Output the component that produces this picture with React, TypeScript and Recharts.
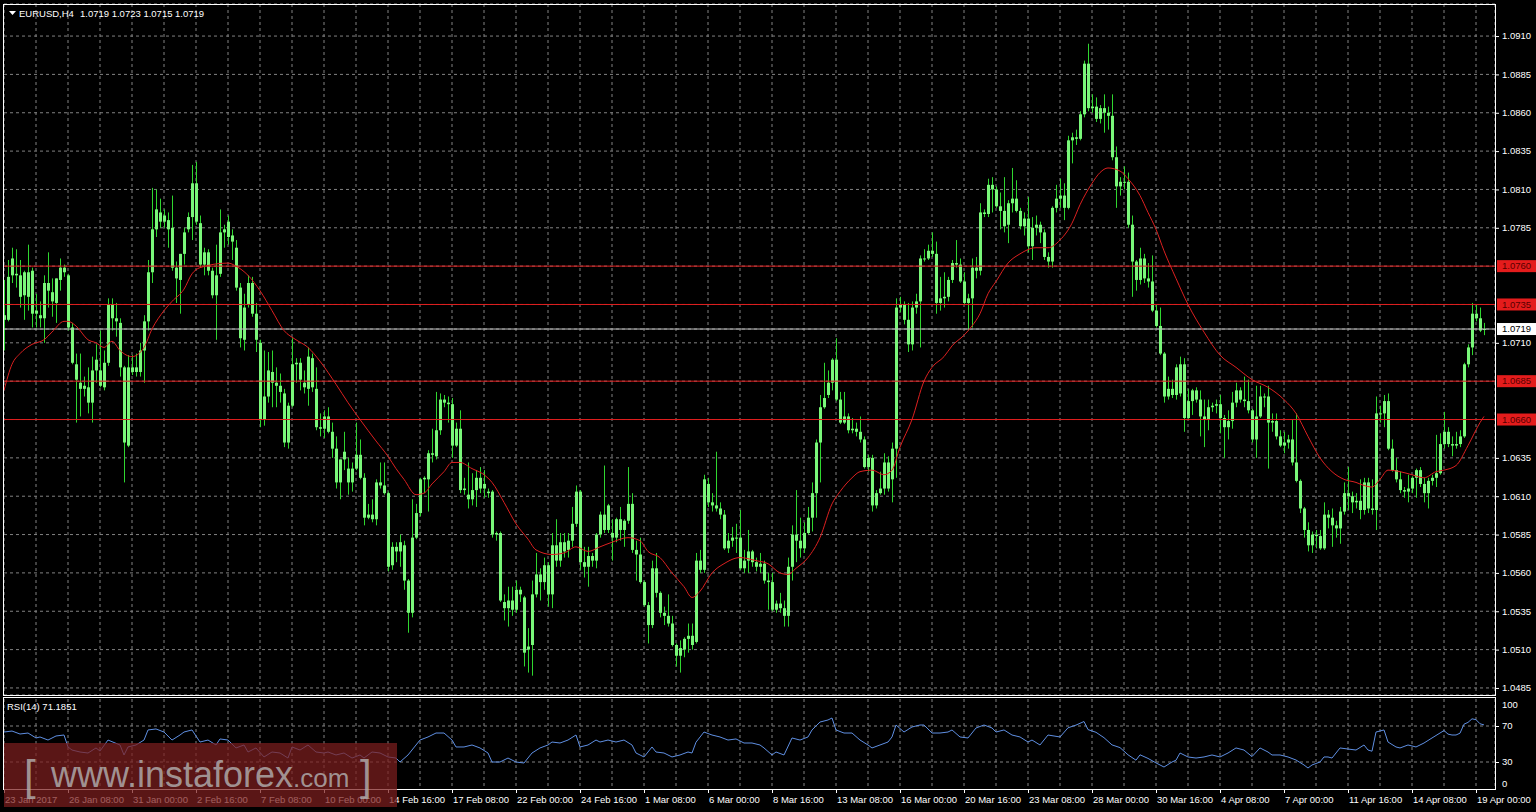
import React from 'react';
import { ComposedChart, Bar, Line, XAxis, YAxis, CartesianGrid, ReferenceLine } from 'recharts';

// ---------- texts ----------
const symbolTitle = 'EURUSD,H4';
const lastOHLC = [1.0719, 1.0723, 1.0715, 1.0719];
const rsiTitle = 'RSI(14) 71.1851';
const watermarkMain = 'www.instaforex';
const watermarkTail = '.com';

// ---------- axes ----------
const priceTicks = [1.0485, 1.051, 1.0535, 1.056, 1.0585, 1.061, 1.0635, 1.066, 1.0685, 1.071, 1.0735, 1.076, 1.0785, 1.081, 1.0835, 1.086, 1.0885, 1.091];
const redLevels = [1.076, 1.0735, 1.0685, 1.066];
const lastPrice = 1.0719;
const rsiTicks = [0, 30, 70, 100];
const rsiLevels = [30, 70];
const dateLabels = ['23 Jan 2017', '26 Jan 08:00', '31 Jan 00:00', '2 Feb 16:00', '7 Feb 08:00', '10 Feb 00:00', '14 Feb 16:00', '17 Feb 08:00', '22 Feb 00:00', '24 Feb 16:00', '1 Mar 08:00', '6 Mar 00:00', '8 Mar 16:00', '13 Mar 08:00', '16 Mar 00:00', '20 Mar 16:00', '23 Mar 08:00', '28 Mar 00:00', '30 Mar 16:00', '4 Apr 08:00', '7 Apr 00:00', '11 Apr 16:00', '14 Apr 08:00', '19 Apr 00:00'];

// ---------- H4 candles [open, high, low, close] ----------
const barsLateJan = [
  [1.0725,1.0751,1.0705,1.0728],[1.0725,1.0764,1.0724,1.0753],[1.0754,1.0772,1.0749,1.0765],[1.0755,1.0771,1.0746,1.0754],
  [1.0754,1.0764,1.0733,1.0740],[1.0741,1.0757,1.0725,1.0756],[1.0756,1.0774,1.0731,1.0740],[1.0757,1.0759,1.0720,1.0729],
  [1.0729,1.0742,1.0720,1.0731],[1.0728,1.0737,1.0720,1.0726],[1.0726,1.0754,1.0710,1.0749],[1.0749,1.0769,1.0733,1.0744],
  [1.0743,1.0752,1.0727,1.0737],[1.0736,1.0752,1.0723,1.0752],[1.0751,1.0765,1.0744,1.0759],[1.0759,1.0761,1.0753,1.0756],
  [1.0754,1.0755,1.0718,1.0720],[1.0720,1.0723,1.0696,1.0697],[1.0696,1.0703,1.0658,1.0686],[1.0684,1.0703,1.0662,1.0680],
  [1.0680,1.0688,1.0675,1.0682],[1.0681,1.0694,1.0664,1.0671],[1.0671,1.0701,1.0658,1.0692],[1.0692,1.0709,1.0684,1.0699],
  [1.0692,1.0718,1.0681,1.0682],[1.0681,1.0705,1.0679,1.0697],[1.0697,1.0739,1.0695,1.0735],[1.0735,1.0739,1.0718,1.0726],
  [1.0726,1.0736,1.0714,1.0724],[1.0723,1.0726,1.0688,1.0694],[1.0694,1.0695,1.0619,1.0645],[1.0643,1.0702,1.0642,1.0694],
  [1.0694,1.0702,1.0689,1.0691],[1.0691,1.0703,1.0688,1.0694],[1.0691,1.0710,1.0688,1.0705],[1.0705,1.0728,1.0684,1.0724],
  [1.0724,1.0764,1.0718,1.0756],[1.0756,1.0811,1.0749,1.0784],[1.0784,1.0810,1.0779,1.0797],[1.0795,1.0804,1.0785,1.0789],
  [1.0789,1.0797,1.0785,1.0793],[1.0790,1.0795,1.0772,1.0784],[1.0785,1.0806,1.0757,1.0759],[1.0759,1.0763,1.0736,1.0752],
  [1.0751,1.0768,1.0729,1.0768],[1.0768,1.0785,1.0761,1.0782],[1.0784,1.0795,1.0782,1.0792],[1.0792,1.0826,1.0777,1.0814],
  [1.0814,1.0828,1.0787,1.0789],
];
const barsEarlyFeb = [
  [1.0788,1.0793,1.0759,1.0761],[1.0761,1.0772,1.0754,1.0769],[1.0769,1.0771,1.0754,1.0757],[1.0757,1.0759,1.0739,1.0741],
  [1.0741,1.0774,1.0712,1.0754],[1.0755,1.0797,1.0753,1.0782],[1.0782,1.0787,1.0772,1.0784],[1.0779,1.0793,1.0774,1.0789],
  [1.0780,1.0784,1.0764,1.0776],[1.0772,1.0777,1.0744,1.0746],[1.0746,1.0749,1.0707,1.0713],[1.0712,1.0742,1.0705,1.0733],
  [1.0735,1.0754,1.0733,1.0749],[1.0749,1.0753,1.0727,1.0729],[1.0729,1.0736,1.0704,1.0712],[1.0710,1.0712,1.0655,1.0660],
  [1.0660,1.0705,1.0656,1.0675],[1.0675,1.0704,1.0671,1.0692],[1.0691,1.0705,1.0668,1.0684],[1.0684,1.0694,1.0668,1.0682],
  [1.0682,1.0690,1.0671,1.0678],[1.0677,1.0680,1.0642,1.0645],[1.0645,1.0671,1.0641,1.0669],[1.0669,1.0713,1.0668,1.0696],
  [1.0696,1.0700,1.0684,1.0697],[1.0697,1.0700,1.0679,1.0686],[1.0684,1.0692,1.0677,1.0681],[1.0680,1.0707,1.0669,1.0701],
  [1.0700,1.0703,1.0678,1.0681],[1.0680,1.0694,1.0653,1.0655],[1.0655,1.0664,1.0649,1.0654],[1.0654,1.0666,1.0648,1.0662],
  [1.0662,1.0668,1.0651,1.0652],[1.0652,1.0658,1.0635,1.0641],[1.0641,1.0649,1.0615,1.0619],[1.0619,1.0634,1.0608,1.0634],
  [1.0634,1.0652,1.0627,1.0639],[1.0628,1.0635,1.0611,1.0619],[1.0619,1.0632,1.0613,1.0628],[1.0628,1.0658,1.0627,1.0637],
  [1.0637,1.0647,1.0621,1.0622],[1.0622,1.0625,1.0591,1.0596],[1.0596,1.0605,1.0595,1.0598],[1.0598,1.0608,1.0593,1.0595],
  [1.0595,1.0621,1.0591,1.0619],[1.0619,1.0632,1.0615,1.0617],[1.0617,1.0632,1.0611,1.0612],[1.0612,1.0613,1.0561,1.0564],
  [1.0565,1.0580,1.0562,1.0577],
];
const barsMidFeb = [
  [1.0577,1.0580,1.0567,1.0574],[1.0574,1.0585,1.0564,1.0580],[1.0578,1.0581,1.0549,1.0555],[1.0555,1.0556,1.0521,1.0534],
  [1.0534,1.0608,1.0531,1.0583],[1.0583,1.0605,1.0582,1.0599],[1.0599,1.0622,1.0597,1.0621],[1.0621,1.0623,1.0612,1.0622],
  [1.0621,1.0640,1.0600,1.0638],[1.0638,1.0654,1.0632,1.0637],[1.0636,1.0678,1.0634,1.0653],[1.0653,1.0677,1.0650,1.0673],
  [1.0673,1.0676,1.0668,1.0671],[1.0671,1.0675,1.0658,1.0670],[1.0670,1.0674,1.0635,1.0643],[1.0643,1.0658,1.0642,1.0654],
  [1.0654,1.0666,1.0612,1.0614],[1.0614,1.0622,1.0611,1.0615],[1.0611,1.0632,1.0602,1.0608],[1.0608,1.0625,1.0604,1.0614],
  [1.0614,1.0627,1.0603,1.0622],[1.0622,1.0629,1.0612,1.0615],[1.0615,1.0627,1.0609,1.0618],[1.0613,1.0615,1.0609,1.0612],
  [1.0613,1.0614,1.0583,1.0585],[1.0585,1.0587,1.0581,1.0586],[1.0586,1.0587,1.0541,1.0542],[1.0541,1.0546,1.0529,1.0537],
  [1.0537,1.0551,1.0525,1.0542],[1.0542,1.0551,1.0532,1.0536],[1.0536,1.0555,1.0534,1.0549],[1.0549,1.0551,1.0541,1.0546],
  [1.0544,1.0545,1.0499,1.0508],[1.0510,1.0524,1.0495,1.0512],[1.0513,1.0555,1.0493,1.0546],[1.0546,1.0573,1.0544,1.0559],
  [1.0559,1.0563,1.0542,1.0554],[1.0554,1.0570,1.0549,1.0565],[1.0565,1.0567,1.0538,1.0546],[1.0546,1.0586,1.0537,1.0578],
  [1.0578,1.0595,1.0564,1.0568],[1.0568,1.0586,1.0564,1.0580],[1.0580,1.0586,1.0570,1.0574],[1.0575,1.0586,1.0570,1.0581],
  [1.0581,1.0603,1.0577,1.0592],[1.0592,1.0617,1.0590,1.0613],[1.0613,1.0614,1.0562,1.0567],[1.0567,1.0577,1.0557,1.0564],
  [1.0564,1.0577,1.0551,1.0571],
];
const barsLateFeb = [
  [1.0571,1.0573,1.0564,1.0568],[1.0568,1.0586,1.0563,1.0585],[1.0585,1.0600,1.0583,1.0598],[1.0598,1.0630,1.0586,1.0588],
  [1.0588,1.0605,1.0586,1.0604],[1.0586,1.0595,1.0568,1.0583],[1.0583,1.0596,1.0580,1.0595],[1.0595,1.0603,1.0581,1.0588],
  [1.0588,1.0595,1.0577,1.0594],[1.0594,1.0629,1.0592,1.0605],[1.0605,1.0612,1.0573,1.0575],[1.0575,1.0581,1.0555,1.0572],
  [1.0572,1.0583,1.0553,1.0554],[1.0554,1.0555,1.0538,1.0539],[1.0539,1.0541,1.0514,1.0526],[1.0526,1.0568,1.0524,1.0563],
  [1.0563,1.0573,1.0544,1.0547],[1.0547,1.0548,1.0531,1.0534],[1.0534,1.0538,1.0526,1.0532],[1.0532,1.0546,1.0525,1.0527],
  [1.0527,1.0532,1.0512,1.0513],[1.0513,1.0514,1.0499,1.0506],[1.0506,1.0516,1.0495,1.0511],[1.0510,1.0518,1.0505,1.0517],
  [1.0517,1.0527,1.0508,1.0519],[1.0519,1.0527,1.0510,1.0513],[1.0515,1.0573,1.0514,1.0568],[1.0568,1.0575,1.0560,1.0562],
  [1.0562,1.0624,1.0560,1.0621],[1.0618,1.0622,1.0603,1.0606],[1.0606,1.0612,1.0600,1.0604],[1.0604,1.0639,1.0600,1.0602],
  [1.0602,1.0606,1.0595,1.0598],[1.0598,1.0601,1.0575,1.0576],[1.0576,1.0586,1.0573,1.0581],[1.0581,1.0590,1.0577,1.0583],
  [1.0583,1.0592,1.0573,1.0583],[1.0583,1.0601,1.0562,1.0563],[1.0563,1.0575,1.0560,1.0568],[1.0568,1.0588,1.0560,1.0574],
  [1.0574,1.0575,1.0564,1.0567],[1.0567,1.0570,1.0561,1.0564],[1.0564,1.0573,1.0560,1.0566],[1.0566,1.0568,1.0553,1.0555],
  [1.0555,1.0560,1.0536,1.0554],[1.0554,1.0560,1.0535,1.0536],[1.0536,1.0542,1.0534,1.0540],[1.0540,1.0547,1.0534,1.0537],
  [1.0537,1.0542,1.0525,1.0532],
];
const barsEarlyMar = [
  [1.0532,1.0570,1.0525,1.0564],[1.0564,1.0591,1.0555,1.0585],[1.0585,1.0614,1.0567,1.0581],[1.0581,1.0596,1.0570,1.0576],
  [1.0576,1.0593,1.0573,1.0586],[1.0586,1.0603,1.0585,1.0596],[1.0596,1.0619,1.0587,1.0612],[1.0612,1.0647,1.0596,1.0645],
  [1.0645,1.0676,1.0619,1.0668],[1.0668,1.0697,1.0667,1.0674],[1.0676,1.0692,1.0674,1.0684],[1.0684,1.0700,1.0679,1.0699],
  [1.0699,1.0713,1.0672,1.0673],[1.0673,1.0678,1.0657,1.0658],[1.0658,1.0678,1.0657,1.0662],[1.0662,1.0664,1.0651,1.0653],
  [1.0653,1.0661,1.0651,1.0654],[1.0654,1.0658,1.0649,1.0652],[1.0652,1.0662,1.0645,1.0647],[1.0647,1.0649,1.0628,1.0629],
  [1.0629,1.0637,1.0626,1.0635],[1.0635,1.0637,1.0600,1.0604],[1.0604,1.0614,1.0602,1.0612],[1.0612,1.0626,1.0611,1.0615],
  [1.0615,1.0638,1.0611,1.0632],[1.0632,1.0636,1.0613,1.0615],[1.0621,1.0645,1.0606,1.0641],[1.0641,1.0739,1.0622,1.0733],
  [1.0733,1.0740,1.0730,1.0735],[1.0735,1.0737,1.0722,1.0725],[1.0725,1.0736,1.0704,1.0709],[1.0709,1.0737,1.0705,1.0733],
  [1.0733,1.0742,1.0729,1.0737],[1.0737,1.0767,1.0707,1.0765],[1.0765,1.0771,1.0763,1.0765],[1.0765,1.0774,1.0764,1.0770],
  [1.0770,1.0782,1.0766,1.0768],[1.0768,1.0776,1.0729,1.0736],[1.0736,1.0753,1.0731,1.0739],[1.0739,1.0756,1.0733,1.0740],
  [1.0740,1.0753,1.0737,1.0751],[1.0751,1.0764,1.0749,1.0762],[1.0762,1.0777,1.0759,1.0761],[1.0761,1.0765,1.0749,1.0750],
  [1.0750,1.0756,1.0735,1.0736],[1.0736,1.0742,1.0718,1.0739],[1.0739,1.0765,1.0720,1.0759],[1.0759,1.0766,1.0752,1.0757],
  [1.0757,1.0801,1.0754,1.0795],
];
const barsMidMar = [
  [1.0795,1.0797,1.0792,1.0794],[1.0794,1.0817,1.0792,1.0813],[1.0813,1.0818,1.0795,1.0810],[1.0810,1.0812,1.0798,1.0799],
  [1.0799,1.0808,1.0784,1.0796],[1.0796,1.0818,1.0782,1.0786],[1.0787,1.0803,1.0775,1.0801],[1.0801,1.0824,1.0795,1.0804],
  [1.0804,1.0816,1.0795,1.0796],[1.0796,1.0798,1.0784,1.0786],[1.0786,1.0795,1.0780,1.0791],[1.0791,1.0805,1.0769,1.0773],
  [1.0773,1.0792,1.0764,1.0785],[1.0785,1.0793,1.0780,1.0787],[1.0787,1.0789,1.0775,1.0782],[1.0782,1.0784,1.0764,1.0766],
  [1.0766,1.0769,1.0759,1.0763],[1.0763,1.0799,1.0759,1.0798],[1.0798,1.0813,1.0795,1.0804],[1.0804,1.0817,1.0798,1.0806],
  [1.0806,1.0814,1.0790,1.0798],[1.0798,1.0845,1.0797,1.0842],[1.0842,1.0847,1.0827,1.0844],[1.0844,1.0849,1.0839,1.0843],
  [1.0843,1.0861,1.0842,1.0859],[1.0859,1.0894,1.0857,1.0892],[1.0892,1.0905,1.0861,1.0863],[1.0863,1.0872,1.0860,1.0864],
  [1.0864,1.0870,1.0854,1.0856],[1.0856,1.0865,1.0853,1.0863],[1.0863,1.0872,1.0847,1.0860],[1.0860,1.0864,1.0849,1.0858],
  [1.0858,1.0872,1.0829,1.0831],[1.0831,1.0838,1.0798,1.0812],[1.0812,1.0818,1.0806,1.0815],[1.0815,1.0825,1.0810,1.0815],
  [1.0815,1.0821,1.0785,1.0787],[1.0787,1.0793,1.0740,1.0763],[1.0763,1.0764,1.0744,1.0751],[1.0751,1.0772,1.0748,1.0765],
  [1.0765,1.0768,1.0749,1.0752],[1.0752,1.0762,1.0746,1.0750],[1.0750,1.0767,1.0730,1.0731],[1.0731,1.0735,1.0720,1.0721],
  [1.0721,1.0733,1.0702,1.0703],[1.0703,1.0704,1.0671,1.0675],[1.0675,1.0688,1.0673,1.0680],[1.0680,1.0686,1.0674,1.0676],
  [1.0676,1.0696,1.0673,1.0694],
];
const barsEarlyApr = [
  [1.0677,1.0701,1.0675,1.0696],[1.0696,1.0700,1.0652,1.0661],[1.0661,1.0680,1.0660,1.0672],[1.0672,1.0680,1.0663,1.0679],
  [1.0679,1.0681,1.0671,1.0673],[1.0673,1.0679,1.0649,1.0662],[1.0662,1.0673,1.0642,1.0660],[1.0660,1.0673,1.0653,1.0668],
  [1.0668,1.0671,1.0665,1.0669],[1.0669,1.0673,1.0664,1.0670],[1.0670,1.0676,1.0651,1.0661],[1.0661,1.0663,1.0635,1.0655],
  [1.0655,1.0666,1.0647,1.0659],[1.0659,1.0678,1.0654,1.0671],[1.0671,1.0684,1.0668,1.0679],[1.0679,1.0681,1.0671,1.0673],
  [1.0673,1.0688,1.0668,1.0672],[1.0672,1.0686,1.0664,1.0666],[1.0666,1.0667,1.0645,1.0647],[1.0647,1.0682,1.0635,1.0662],
  [1.0662,1.0682,1.0661,1.0675],[1.0675,1.0677,1.0668,1.0675],[1.0675,1.0682,1.0628,1.0658],[1.0658,1.0664,1.0652,1.0659],
  [1.0659,1.0664,1.0647,1.0649],[1.0649,1.0653,1.0642,1.0643],[1.0643,1.0652,1.0638,1.0645],[1.0645,1.0650,1.0641,1.0647],
  [1.0647,1.0660,1.0630,1.0632],[1.0632,1.0664,1.0619,1.0620],[1.0620,1.0621,1.0599,1.0602],[1.0602,1.0603,1.0583,1.0588],
  [1.0588,1.0593,1.0574,1.0578],[1.0578,1.0587,1.0573,1.0585],[1.0585,1.0588,1.0576,1.0584],[1.0584,1.0588,1.0575,1.0576],
  [1.0576,1.0606,1.0575,1.0598],[1.0598,1.0601,1.0589,1.0596],[1.0596,1.0602,1.0577,1.0591],[1.0591,1.0594,1.0583,1.0589],
  [1.0589,1.0603,1.0579,1.0600],[1.0600,1.0619,1.0598,1.0612],[1.0612,1.0629,1.0601,1.0610],[1.0610,1.0613,1.0599,1.0606],
  [1.0606,1.0612,1.0602,1.0607],[1.0607,1.0621,1.0595,1.0601],[1.0601,1.0622,1.0598,1.0619],[1.0619,1.0622,1.0599,1.0602],
  [1.0602,1.0621,1.0598,1.0601],
];
const barsMidApr = [
  [1.0601,1.0675,1.0588,1.0664],[1.0664,1.0669,1.0658,1.0664],[1.0664,1.0676,1.0655,1.0672],[1.0672,1.0677,1.0640,1.0641],
  [1.0641,1.0647,1.0626,1.0627],[1.0627,1.0635,1.0619,1.0621],[1.0621,1.0626,1.0612,1.0614],[1.0614,1.0616,1.0609,1.0613],
  [1.0613,1.0624,1.0606,1.0615],[1.0615,1.0623,1.0612,1.0622],[1.0622,1.0628,1.0609,1.0627],[1.0627,1.0629,1.0616,1.0618],
  [1.0618,1.0622,1.0606,1.0612],[1.0612,1.0622,1.0602,1.0620],[1.0620,1.0624,1.0617,1.0622],[1.0622,1.0650,1.0616,1.0625],
  [1.0625,1.0651,1.0624,1.0644],[1.0644,1.0665,1.0641,1.0652],[1.0652,1.0655,1.0642,1.0644],[1.0644,1.0649,1.0636,1.0643],
  [1.0643,1.0652,1.0641,1.0644],[1.0644,1.0653,1.0642,1.0649],[1.0649,1.0697,1.0648,1.0696],[1.0696,1.0709,1.0694,1.0707],
  [1.0707,1.0736,1.0702,1.0729],[1.0729,1.0735,1.0724,1.0726],[1.0726,1.0733,1.0717,1.0718],[1.0719,1.0723,1.0715,1.0719],
];

// ---------- moving average [bar, value] ----------
const maPoints = [
  [0,1.0679],[2,1.0696],[4,1.0703],[7,1.0709],[10,1.0712],[12,1.0717],[15,1.0724],[16,1.0724],[18,1.0721],[21,1.0712],[23,1.0710],
  [25,1.0707],[27,1.0711],[29,1.0705],[32,1.0701],[35,1.0707],[37,1.0719],[40,1.0731],[42,1.0737],[45,1.0745],[47,1.0755],[49,1.0759],
  [56,1.0762],[58,1.0760],[61,1.0754],[64,1.0744],[67,1.0731],[70,1.0718],[73,1.0712],[76,1.0707],[79,1.0698],[83,1.0683],[86,1.0671],
  [89,1.0660],[93,1.0646],[96,1.0636],[98,1.0628],[100,1.0621],[103,1.0611],[105,1.0612],[107,1.0618],[110,1.0626],[112,1.0632],
  [114,1.0632],[117,1.0628],[120,1.0624],[122,1.0619],[125,1.0606],[128,1.0592],[131,1.0582],[133,1.0575],[137,1.0572],[140,1.0573],
  [143,1.0577],[146,1.0574],[149,1.0577],[152,1.0580],[156,1.0583],[159,1.0581],[161,1.0574],[164,1.0570],[167,1.0560],[170,1.0551],
  [172,1.0544],[174,1.0548],[177,1.0560],[180,1.0566],[184,1.0570],[188,1.0568],[191,1.0566],[194,1.0560],[196,1.0559],[198,1.0563],
  [201,1.0570],[204,1.0583],[207,1.0605],[209,1.0613],[212,1.0622],[214,1.0626],[217,1.0627],[220,1.0624],[222,1.0627],[224,1.0642],
  [227,1.0660],[230,1.0685],[232,1.0694],[235,1.0701],[237,1.0708],[240,1.0715],[242,1.0721],[244,1.0729],[246,1.0742],[248,1.0750],
  [251,1.0762],[254,1.0768],[258,1.0772],[261,1.0772],[264,1.0777],[267,1.0788],[269,1.0800],[272,1.0814],[274,1.0821],[276,1.0824],
  [279,1.0822],[281,1.0817],[284,1.0806],[286,1.0795],[288,1.0784],[290,1.0770],[293,1.0752],[296,1.0735],[300,1.0717],[304,1.0702],
  [308,1.0694],[312,1.0686],[316,1.0681],[320,1.0673],[323,1.0664],[326,1.0649],[329,1.0635],[332,1.0626],[335,1.0621],[338,1.0619],
  [340,1.0617],[342,1.0616],[344,1.0621],[346,1.0627],[349,1.0626],[352,1.0624],[355,1.0622],[358,1.0626],[360,1.0627],[363,1.0630],
  [366,1.0643],[369,1.0658],[370,1.0662],
];

// ---------- RSI(14) [bar, value] ----------
const rsiPoints = [
  [0,63.3],[2,64.4],[4,61.1],[6,62.2],[8,56.7],[9,57.8],[11,54.4],[13,58.9],[15,60],[16,46.7],[17,43.3],[19,41.1],[21,40],[23,45.6],
  [24,42.2],[26,54.4],[29,48.9],[30,37.8],[31,46.7],[33,48.9],[35,54.4],[36,65.6],[38,66.7],[40,63.3],[42,54.4],[44,60],[45,63.3],
  [47,65.6],[49,52.2],[51,54.4],[53,48.9],[54,55.6],[56,54.4],[58,45.6],[60,48.9],[61,41.1],[63,45.6],[65,35.6],[67,41.1],[69,40],
  [71,34.4],[72,46.7],[74,43.3],[76,48.9],[78,41.1],[80,40],[81,41.1],[83,37.8],[85,40],[87,34.4],[89,37.8],[90,34.4],[92,41.1],
  [94,40],[96,35.6],[98,34.4],[99,30],[101,37.8],[103,48.9],[104,54.4],[106,57.8],[108,62.2],[110,62.2],[112,54.4],[113,46.7],
  [115,46.7],[117,48.9],[119,45.6],[121,40],[122,30],[124,30],[126,34.4],[128,30],[130,28.9],[132,40],[134,45.6],[136,48.9],
  [137,52.2],[139,51.1],[141,54.4],[143,60],[144,46.7],[146,48.9],[148,54.4],[149,52.2],[151,54.4],[153,52.2],[155,54.4],[157,48.9],
  [158,40],[160,35.6],[162,46.7],[163,41.1],[165,40],[167,35.6],[169,37.8],[171,41.1],[172,40],[173,52],[175,63.3],[177,60],
  [179,57.8],[181,54.4],[183,55.6],[185,51.1],[187,51.1],[189,48.9],[190,45.6],[192,37.8],[193,41.1],[195,37.8],[197,56.7],
  [199,54.4],[201,57.8],[202,65.6],[204,74.4],[206,76.7],[207,78.9],[208,65.6],[210,62.2],[212,62.2],[214,54.4],[216,48.9],
  [217,45.6],[219,48.9],[221,52.2],[222,57.8],[223,71.1],[225,63.3],[227,68.9],[229,71.1],[230,71.1],[232,62.2],[234,62.2],
  [236,63.3],[237,65.6],[239,57.8],[241,56.7],[243,67.8],[245,71.1],[247,67.8],[248,63.3],[250,65.6],[252,60],[254,57.8],
  [256,52.2],[257,54.4],[259,48.9],[261,60],[264,57.8],[266,68],[268,71],[270,75],[271,66],[273,63],[275,57],[277,49],[279,46],
  [281,38],[283,32],[284,38],[286,34],[288,29],[290,24.4],[292,30],[293,32],[294,40],[296,35.6],[298,34.4],[300,35.6],[302,37.8],
  [304,35.6],[306,40],[308,45.6],[310,43.3],[312,36],[314,45.6],[316,41.1],[317,37.8],[319,37.8],[321,35.6],[323,32.2],[325,26.7],
  [326,23.3],[327,26.7],[329,30],[330,35.6],[331,35.6],[332,34.4],[334,45.6],[336,44.4],[338,43.3],[340,48.9],[341,43.3],[342,42],
  [343,63.3],[345,65.6],[346,52.2],[348,46.7],[349,45.6],[351,48.9],[353,46.7],[355,51.1],[357,56.7],[359,62.2],[360,65],[361,61],
  [362,60],[363,60],[364,62],[365,72],[366,74],[367,78],[368,77],[369,72.5],[370,71.2],
];

// ---------- table built from the arrays ----------
const ohlc = [...barsLateJan, ...barsEarlyFeb, ...barsMidFeb, ...barsLateFeb, ...barsEarlyMar, ...barsMidMar, ...barsEarlyApr, ...barsMidApr];
const maMap = new Map(maPoints.map(([i, v]) => [i, v]));
const rsiMap = new Map(rsiPoints.map(([i, v]) => [i, v]));
const data = ohlc.map(([o, h, l, c], i) => ({
  i,
  open: o,
  high: h,
  low: l,
  close: c,
  range: [l, h],
  ma: maMap.has(i) ? maMap.get(i) : null,
  rsi: rsiMap.has(i) ? rsiMap.get(i) : null,
}));

const BARS_PER_LABEL = 16;
const gridTicks = Array.from({ length: 47 }, (_, k) => k * 8);
const X_DOMAIN = [0, 372.75];
const P_DOMAIN = [1.04804, 1.09309];

// ---------- styles ----------
const FONT = "'Liberation Sans', Arial, Helvetica, sans-serif";
const FS = 9.5;
const GRID = '#828282';
const WICK = '#2fd62f';
const BODY = '#7af77a';
const MA_COLOR = '#dc2020';
const LEVEL = '#e01e1e';
const LAST = '#c0c0c0';
const RSI_COLOR = '#5f8fe2';

const Candle = (props: any) => {
  const { x, y, width, height, payload } = props;
  if (x == null || y == null || !payload) return <g />;
  const top = Math.min(y, y + height);
  const h = Math.abs(height);
  const span = payload.high - payload.low;
  const py = (v: number) => (span > 0 ? top + ((payload.high - v) / span) * h : top);
  const cx = Math.round(x + width / 2);
  const yo = py(payload.open);
  const yc = py(payload.close);
  const bt = Math.min(yo, yc);
  const bh = Math.max(1, Math.abs(yc - yo));
  return (
    <g>
      <line x1={cx + 0.5} x2={cx + 0.5} y1={top} y2={top + Math.max(h, 1)} stroke={WICK} strokeWidth={1} />
      <rect x={cx - 1} y={bt} width={3} height={bh} fill={BODY} />
    </g>
  );
};

const near = (a: number, b: number) => Math.abs(a - b) < 1e-7;

const renderPriceTick = (props: any) => {
  const { x, y, payload } = props;
  const v = payload.value;
  const isRed = redLevels.some((r) => near(r, v));
  const isLast = near(v, lastPrice);
  if (isRed || isLast) {
    return (
      <g>
        <rect x={x + 2} y={y - 6} width={39} height={12} fill={isRed ? '#e41c1c' : '#ffffff'} />
        <text x={x + 7} y={y} dy="0.35em" fill={isRed ? '#560000' : '#000000'} fontSize={FS} fontFamily={FONT}>
          {v.toFixed(4)}
        </text>
      </g>
    );
  }
  return (
    <g>
      <line x1={x} x2={x + 4} y1={y + 0.5} y2={y + 0.5} stroke="#ffffff" />
      <text x={x + 7} y={y} dy="0.35em" fill="#ffffff" fontSize={FS} fontFamily={FONT}>
        {v.toFixed(4)}
      </text>
    </g>
  );
};

const renderRsiTick = (props: any) => {
  const { x, y, payload } = props;
  const v = payload.value;
  const dy = v === 100 ? 6 : v === 0 ? -5 : 0;
  return (
    <g>
      {v === 30 || v === 70 ? <line x1={x} x2={x + 4} y1={y + 0.5} y2={y + 0.5} stroke="#ffffff" /> : null}
      <text x={x + 7} y={y + dy} dy="0.35em" fill="#ffffff" fontSize={FS} fontFamily={FONT}>
        {v}
      </text>
    </g>
  );
};

const renderDateTick = (props: any) => {
  const { x, y, payload } = props;
  const v = payload.value;
  if (v % BARS_PER_LABEL !== 0) return <g />;
  const label = dateLabels[v / BARS_PER_LABEL];
  if (!label) return <g />;
  return (
    <g>
      <line x1={x + 0.5} x2={x + 0.5} y1={y} y2={y + 4} stroke="#ffffff" />
      <text x={x + 1} y={y + 14} fill="#ffffff" fontSize={FS} fontFamily={FONT}>
        {label}
      </text>
    </g>
  );
};

export default function App() {
  return (
    <div style={{ position: 'fixed', left: 0, top: 0, width: 1536, height: 812, background: '#000000', overflow: 'hidden' }}>
      <div style={{ position: 'absolute', left: 0, top: 0 }}>
        <ComposedChart width={1536} height={700} data={data} margin={{ top: 4, right: 0, bottom: 5, left: 4 }}>
          <CartesianGrid stroke={GRID} strokeDasharray="3 3" />
          <XAxis dataKey="i" type="number" domain={X_DOMAIN} ticks={gridTicks} interval={0} hide allowDataOverflow />
          <YAxis
            orientation="right"
            type="number"
            width={41}
            domain={P_DOMAIN}
            allowDataOverflow
            ticks={[...priceTicks, lastPrice]}
            interval={0}
            tick={renderPriceTick}
            tickLine={false}
            axisLine={false}
            tickSize={0}
            tickMargin={0}
          />
          {redLevels.map((v) => (
            <ReferenceLine key={v} y={v} stroke={LEVEL} strokeWidth={1} />
          ))}
          <ReferenceLine y={lastPrice} stroke={LAST} strokeWidth={1} />
          <Bar dataKey="range" shape={Candle} isAnimationActive={false} />
          <Line dataKey="ma" type="monotone" stroke={MA_COLOR} strokeWidth={1} dot={false} connectNulls isAnimationActive={false} />
        </ComposedChart>
      </div>
      <div style={{ position: 'absolute', left: 0, top: 697 }}>
        <ComposedChart width={1536} height={115} data={data} margin={{ top: 2, right: 0, bottom: 0, left: 4 }}>
          <CartesianGrid stroke={GRID} strokeDasharray="3 3" horizontal={false} />
          <XAxis
            dataKey="i"
            type="number"
            domain={X_DOMAIN}
            ticks={gridTicks}
            interval={0}
            height={23}
            tick={renderDateTick}
            tickLine={false}
            axisLine={false}
            tickSize={0}
            tickMargin={0}
            allowDataOverflow
          />
          <YAxis
            orientation="right"
            type="number"
            width={41}
            domain={[0, 100]}
            ticks={rsiTicks}
            interval={0}
            tick={renderRsiTick}
            tickLine={false}
            axisLine={false}
            tickSize={0}
            tickMargin={0}
            allowDataOverflow
          />
          {rsiLevels.map((v) => (
            <ReferenceLine key={v} y={v} stroke={GRID} strokeDasharray="3 3" />
          ))}
          <Line dataKey="rsi" type="linear" stroke={RSI_COLOR} strokeWidth={1} dot={false} connectNulls isAnimationActive={false} />
        </ComposedChart>
      </div>
      <svg width={1536} height={812} style={{ position: 'absolute', left: 0, top: 0, pointerEvents: 'none' }}>
        <rect x={3.5} y={4.5} width={1492} height={691} fill="none" stroke="#ffffff" />
        <rect x={3.5} y={697.5} width={1492} height={92} fill="none" stroke="#ffffff" />
        <polygon points="9,11 16,11 12.5,15" fill="#ffffff" />
        <text x={19} y={17} fill="#ffffff" fontSize={FS} fontFamily={FONT}>{symbolTitle}</text>
        <text x={80} y={17} fill="#ffffff" fontSize={FS} fontFamily={FONT}>{lastOHLC.map((v) => v.toFixed(4)).join(' ')}</text>
        <text x={7} y={710} fill="#ffffff" fontSize={FS} fontFamily={FONT}>{rsiTitle}</text>
      </svg>
      <div style={{ position: 'absolute', left: 4, top: 743, width: 393, height: 64, background: 'rgba(125,30,30,0.72)' }}>
        <svg width={393} height={64}>
          <text x={20} y={47} fontSize={42} fill="rgba(180,180,180,0.8)" fontFamily={FONT}>[</text>
          <text x={47} y={44} fontSize={36} fill="rgba(180,180,180,0.8)" fontFamily={FONT}>
            {watermarkMain}
            <tspan fontSize={26}>{watermarkTail}</tspan>
          </text>
          <text x={356} y={47} fontSize={42} fill="rgba(180,180,180,0.8)" fontFamily={FONT}>]</text>
        </svg>
      </div>
    </div>
  );
}
